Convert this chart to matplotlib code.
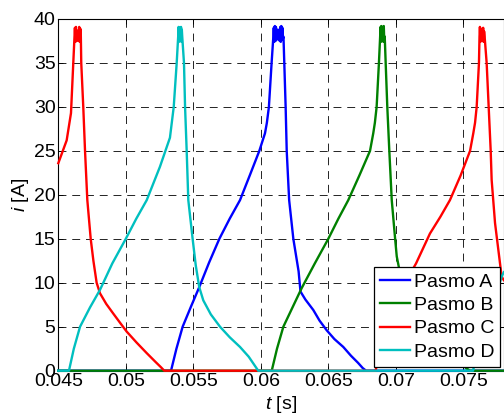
import matplotlib
matplotlib.use("Agg")
import matplotlib.pyplot as plt

plt.rcParams['font.family'] = ['Liberation Sans', 'DejaVu Sans']
plt.rcParams['mathtext.fontset'] = 'custom'
plt.rcParams['mathtext.it'] = 'Liberation Sans:italic'
plt.rcParams['mathtext.rm'] = 'Liberation Sans'

# ---- data (time in s, current in A) ----
a_t = [0.045, 0.05335, 0.05375, 0.05421, 0.05483, 0.05544, 0.05617, 0.05693, 0.0577, 0.05846,
       0.05918, 0.05989, 0.06031, 0.06045, 0.0606, 0.0608, 0.06093,
       0.06096, 0.061, 0.06104, 0.06108, 0.06112, 0.06116, 0.0612, 0.06124, 0.06128, 0.06132,
       0.06136, 0.0614, 0.06144, 0.06148, 0.06152, 0.06156, 0.0616, 0.06164, 0.06168,
       0.06174, 0.06184, 0.06192, 0.0621, 0.06241, 0.0628, 0.06294, 0.0633, 0.06389, 0.06435,
       0.06488, 0.06545, 0.06611, 0.06668, 0.0672, 0.06755, 0.0678, 0.078]
a_i = [0, 0, 2.5, 5.0, 7.3, 9.5, 12.3, 15.0, 17.3, 19.4,
       22.2, 25.0, 27.0, 28.2, 30.0, 35.0, 38.0,
       39.0, 37.4, 39.2, 37.5, 39.1, 37.6, 38.8, 37.8, 38.5, 37.7,
       38.8, 37.5, 39.1, 37.4, 39.2, 37.6, 39.0, 37.8, 38.0,
       35.0, 30.0, 25.0, 19.4, 15.0, 11.3, 9.0, 8.1, 6.9, 5.7,
       4.6, 3.6, 2.7, 1.7, 0.9, 0.3, 0, 0]

b_t = [0.045, 0.06081, 0.0612, 0.06167, 0.06235, 0.06303, 0.064, 0.065, 0.06575, 0.06648,
       0.0673, 0.06809, 0.06833, 0.06845, 0.06858, 0.06875, 0.06884,
       0.06887, 0.0689, 0.06893, 0.06896, 0.06899, 0.06902, 0.06905, 0.06908, 0.06911, 0.06914,
       0.06918, 0.06925, 0.06937, 0.06952, 0.0697, 0.06995, 0.07007, 0.0703, 0.0705, 0.0709,
       0.0715, 0.072, 0.0725, 0.0731, 0.0737, 0.0743, 0.0748, 0.0752, 0.0755, 0.078]
b_i = [0, 0, 2.5, 5.0, 7.2, 9.4, 12.2, 15.0, 17.3, 19.4,
       22.2, 25.0, 27.0, 28.2, 30.0, 35.0, 38.0,
       39.1, 37.4, 39.2, 37.6, 38.7, 37.6, 39.1, 37.4, 39.2, 37.8,
       38.0, 35.0, 30.0, 25.0, 19.4, 15.0, 13.0, 11.2, 9.2, 8.0,
       6.9, 5.7, 4.6, 3.6, 2.7, 1.7, 0.9, 0.3, 0, 0]

c_t = [0.045, 0.04562, 0.04594, 0.04611, 0.0462,
       0.04623, 0.04627, 0.04631, 0.04635, 0.04639, 0.04643, 0.04647, 0.04651, 0.04655, 0.04659,
       0.04663, 0.04667, 0.0467, 0.04685, 0.04698, 0.04715, 0.0474, 0.0476, 0.04784, 0.04809,
       0.04855, 0.04907, 0.0496, 0.05007, 0.0508, 0.05155, 0.0522, 0.0526, 0.05285,
       0.0685, 0.0689, 0.0693, 0.0699, 0.0705, 0.0715, 0.07253, 0.0733, 0.07401, 0.0748, 0.0755,
       0.07574, 0.07587, 0.07599, 0.07616, 0.0762,
       0.07623, 0.07627, 0.07631, 0.07635, 0.07639, 0.07643, 0.07647, 0.07651, 0.07654,
       0.07658, 0.07673, 0.07688, 0.07703, 0.0771, 0.07735, 0.07772, 0.07784, 0.078]
c_i = [23.6, 26.2, 29.3, 35.0, 38.0,
       39.0, 37.4, 39.1, 37.5, 38.6, 37.6, 38.7, 37.5, 39.1, 37.4,
       38.9, 38.0, 35.0, 30.0, 25.0, 19.4, 15.0, 12.5, 10.0, 8.8,
       7.6, 6.5, 5.4, 4.44, 3.2, 2.0, 1.0, 0.4, 0,
       0, 2.5, 5.0, 7.3, 9.5, 12.2, 15.6, 17.5, 19.4, 22.2, 25.0,
       27.0, 28.2, 30.0, 35.0, 38.0,
       39.1, 37.4, 38.9, 37.6, 38.5, 37.5, 39.0, 37.4, 38.6,
       38.0, 35.0, 30.0, 25.0, 21.7, 16.8, 12.2, 10.7, 10.3]

d_t = [0.045, 0.04579, 0.04615, 0.04661, 0.04735, 0.04809, 0.049, 0.05, 0.05078, 0.05155,
       0.05253, 0.05327, 0.05355, 0.05377, 0.05388,
       0.05391, 0.05394, 0.05397, 0.054, 0.05403, 0.05406, 0.05409, 0.05412, 0.05415,
       0.05418, 0.05431, 0.05439, 0.05451, 0.05463, 0.05495, 0.05518, 0.05544, 0.05574, 0.0563,
       0.05698, 0.0577, 0.05846, 0.0591, 0.0595, 0.05981,
       0.07572, 0.0761, 0.0766, 0.0772, 0.07784, 0.078]
d_i = [0, 0, 2.5, 5.0, 7.2, 9.2, 12.2, 15.0, 17.3, 19.4,
       23.2, 26.5, 30.0, 35.0, 38.0,
       39.1, 37.4, 39.0, 37.6, 38.6, 37.5, 39.1, 37.4, 38.8,
       38.0, 35.0, 30.0, 25.0, 19.4, 15.0, 12.0, 9.5, 8.0, 6.4,
       5.0, 3.8, 2.7, 1.6, 0.7, 0,
       0, 2.5, 5.0, 7.5, 10.7, 11.2]

series = [(a_t, a_i, 'Pasmo A', (0, 0, 1)),
          (b_t, b_i, 'Pasmo B', (0, 0.5, 0)),
          (c_t, c_i, 'Pasmo C', (1, 0, 0)),
          (d_t, d_i, 'Pasmo D', (0, 0.75, 0.75))]

x_ticks = [0.045, 0.05, 0.055, 0.06, 0.065, 0.07, 0.075]
x_labels = ['0.045', '0.05', '0.055', '0.06', '0.065', '0.07', '0.075']
y_ticks = [0, 5, 10, 15, 20, 25, 30, 35, 40]

fig = plt.figure(figsize=(5.04, 4.15), dpi=100)
ax = fig.add_axes([58.3 / 504, (415 - 370.7) / 415, (503.8 - 58.3) / 504, (370.7 - 19) / 415])

for t, i, lab, col in series:
    ax.plot(t, i, color=col, lw=1.7, label=lab, clip_on=False, zorder=3,
            solid_joinstyle='round')

ax.set_xlim(0.045, 0.078)
ax.set_ylim(0, 40)
ax.set_xticks(x_ticks)
ax.set_xticklabels(x_labels)
ax.set_yticks(y_ticks)
ax.tick_params(direction='in', length=3.6, width=0.6, top=True, right=True,
               labelsize=14, colors='black')
ax.tick_params(axis='x', pad=2)
ax.tick_params(axis='y', pad=2)
for s in ax.spines.values():
    s.set_linewidth(0.8)
    s.set_color('black')

ax.grid(True, color='black', lw=0.6, linestyle=(0, (9.5, 7.0)), zorder=1)
ax.set_axisbelow(True)

ax.set_xlabel(r'$t$ [s]', fontsize=14, labelpad=2.5)
ax.set_ylabel(r'$i$ [A]', fontsize=14, labelpad=2)

leg = ax.legend(loc='lower right', bbox_to_anchor=(0.9915, 0.0114), borderaxespad=0,
                fontsize=14, frameon=True, fancybox=False, framealpha=1,
                edgecolor='black', handlelength=1.55, handletextpad=0.2,
                labelspacing=0.3, borderpad=0.3)
leg.get_frame().set_linewidth(0.9)
leg.set_zorder(5)

fig.savefig('out.png', dpi=100)
